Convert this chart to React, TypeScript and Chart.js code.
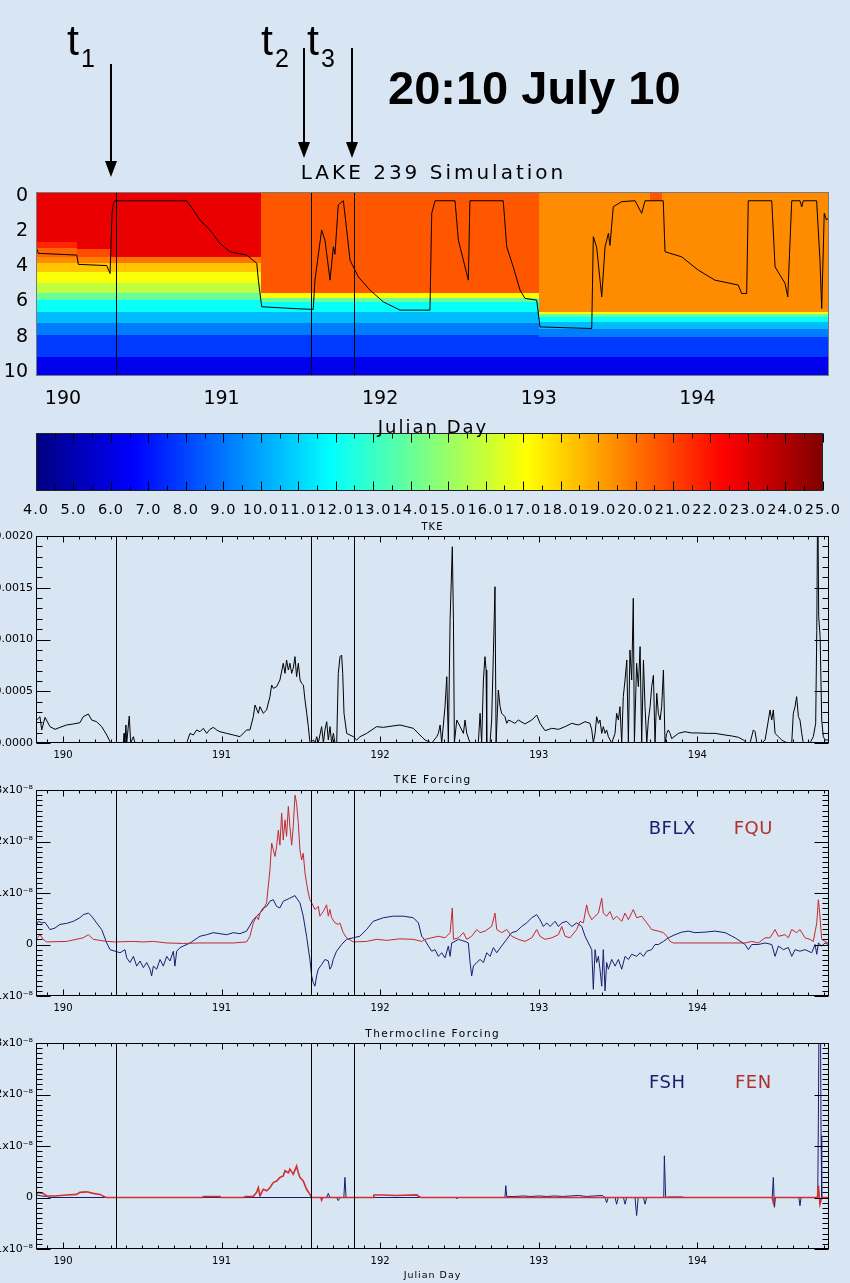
import React, { useEffect, useRef } from "react";
import { Chart, registerables } from "chart.js";

Chart.register(...registerables);

// ---------------- data ----------------
const dayRange: [number, number] = [189.83, 194.83];
const dayTicks = [190, 191, 192, 193, 194];
const markerDays = [190.335, 191.564, 191.835]; // t1, t2, t3

const depthRange: [number, number] = [-0.25, 10.25];
const depthTicks = [0, 2, 4, 6, 8, 10];

const colorRange: [number, number] = [4, 25];
const colorTicks = [4, 5, 6, 7, 8, 9, 10, 11, 12, 13, 14, 15, 16, 17, 18, 19, 20, 21, 22, 23, 24, 25];

const tkeRange: [number, number] = [0, 0.002];
const tkeTicks = [0, 0.0005, 0.001, 0.0015, 0.002];

const forcingRange: [number, number] = [-1, 3]; // units of 1e-8
const forcingTicks = [-1, 0, 1, 2, 3];

// temperature segments: [startDay, endDay]
const tempSegmentDays: [number, number][] = [
  [189.83, 190.09],
  [190.09, 190.3],
  [190.3, 191.25],
  [191.25, 193.0],
  [193.0, 193.7],
  [193.7, 193.78],
  [193.78, 194.83],
];
// each profile: [bottom depth (m), temperature (C)] bands from the surface down
const profileA: [number, number][] = [[2.59, 22.8], [2.97, 21.6], [3.45, 20.3], [3.83, 19.5], [4.3, 18.3], [4.97, 17.0], [5.54, 15.8], [5.92, 14.0], [6.59, 12.0], [7.25, 10.5], [7.92, 9.2], [9.16, 7.8], [10.25, 6.3]];
const profileB: [number, number][] = [[3.01, 22.8], [3.45, 20.8], [3.83, 19.8], [4.3, 18.3], [4.97, 17.0], [5.54, 15.8], [5.92, 14.0], [6.59, 12.0], [7.25, 10.5], [7.92, 9.2], [9.16, 7.8], [10.25, 6.3]];
const profileC: [number, number][] = [[3.45, 22.8], [3.83, 20.0], [4.3, 18.3], [4.97, 17.0], [5.54, 15.8], [5.92, 14.0], [6.59, 12.0], [7.25, 10.5], [7.92, 9.2], [9.16, 7.8], [10.25, 6.3]];
const profileD: [number, number][] = [[5.54, 20.6], [5.78, 17.2], [6.0, 14.0], [6.59, 12.0], [7.25, 10.5], [7.92, 9.2], [9.16, 7.8], [10.25, 6.3]];
const profileE: [number, number][] = [[6.59, 19.5], [6.74, 17.0], [6.87, 14.0], [7.16, 12.0], [7.54, 10.5], [8.0, 9.2], [9.16, 7.8], [10.25, 6.3]];
const profileE2: [number, number][] = [[0.25, 20.6], [6.59, 19.5], [6.74, 17.0], [6.87, 14.0], [7.16, 12.0], [7.54, 10.5], [8.0, 9.2], [9.16, 7.8], [10.25, 6.3]];
const tempProfiles = [profileA, profileB, profileC, profileD, profileE, profileE2, profileE];

// mixed layer depth [day, depth m]
const mixedLayerDepth: [number, number][] = [
  [189.83, 2.88], [189.845, 3.25], [190.087, 3.35], [190.097, 3.88], [190.276, 3.95], [190.297, 4.4],
  [190.309, 1.0], [190.318, 0.4], [190.328, 0.25], [190.78, 0.25], [190.822, 0.78], [190.864, 1.35],
  [190.927, 1.92], [190.99, 2.68], [191.053, 3.16], [191.158, 3.35], [191.222, 3.82], [191.232, 4.78],
  [191.253, 6.3], [191.452, 6.4], [191.578, 6.45], [191.589, 4.78], [191.631, 1.92], [191.652, 2.5],
  [191.684, 4.78], [191.705, 2.88], [191.715, 3.3], [191.736, 0.49], [191.768, 0.25], [191.789, 1.92],
  [191.81, 3.64], [191.862, 4.59], [191.936, 5.35], [192.02, 6.02], [192.125, 6.49], [192.314, 6.49],
  [192.325, 0.97], [192.346, 0.25], [192.472, 0.25], [192.493, 2.49], [192.556, 4.78], [192.566, 0.25],
  [192.776, 0.25], [192.798, 2.88], [192.839, 4.02], [192.882, 5.35], [192.913, 5.82], [192.987, 5.92],
  [193.008, 7.45], [193.334, 7.54], [193.344, 2.3], [193.365, 2.9], [193.397, 5.73], [193.418, 2.88],
  [193.439, 2.11], [193.449, 2.8], [193.47, 0.59], [193.523, 0.3], [193.607, 0.25], [193.649, 0.97],
  [193.67, 0.25], [193.785, 0.25], [193.796, 3.16], [193.901, 3.45], [194.006, 4.21], [194.111, 4.78],
  [194.258, 5.06], [194.279, 5.54], [194.311, 5.54], [194.321, 0.25], [194.469, 0.25], [194.49, 4.02],
  [194.553, 4.97], [194.57, 5.73], [194.595, 0.25], [194.647, 0.25], [194.658, 0.6], [194.668, 0.25],
  [194.752, 0.25], [194.773, 3.64], [194.784, 6.4], [194.8, 0.97], [194.815, 1.35], [194.83, 1.2],
];

// TKE [day, value]
const tke: [number, number][] = [
  [189.828, 0.000222], [189.834, 0.000222], [189.855, 0.000254], [189.866, 0.000126], [189.887, 0.000248],
  [189.918, 0.000158], [189.95, 0.000132], [189.981, 0.000151], [190.023, 0.000174], [190.065, 0.000184],
  [190.107, 0.000196], [190.128, 0.000254], [190.16, 0.00028], [190.181, 0.000222], [190.212, 0.000206],
  [190.244, 0.000158], [190.276, 0.000077], [190.297, 0.000013], [190.305, 0], [190.381, 0],
  [190.385, 0.000093], [190.39, 0], [190.397, 0.000174], [190.402, 0], [190.418, 0.000261], [190.427, 0],
  [190.444, 0.000061], [190.454, 0], [190.78, 0], [190.801, 0.000093], [190.822, 0.000077],
  [190.843, 0.000126], [190.864, 0.000109], [190.885, 0.000142], [190.906, 0.000093], [190.927, 0.000132],
  [190.948, 0.000151], [190.969, 0.000126], [190.99, 0.000109], [191.032, 0.000093], [191.075, 0.000077],
  [191.116, 0.000061], [191.158, 0.000126], [191.179, 0.000126], [191.2, 0.000254], [191.211, 0.000367],
  [191.232, 0.000287], [191.242, 0.000351], [191.263, 0.000287], [191.284, 0.000319], [191.305, 0.000448],
  [191.316, 0.00056], [191.327, 0.000528], [191.347, 0.000544], [191.368, 0.000609], [191.389, 0.00077],
  [191.4, 0.000673], [191.41, 0.000802], [191.421, 0.000705], [191.431, 0.00077], [191.442, 0.000673],
  [191.452, 0.000722], [191.463, 0.000834], [191.473, 0.000641], [191.484, 0.00077], [191.495, 0.000609],
  [191.505, 0.000576], [191.516, 0.00056], [191.526, 0.000415], [191.537, 0.000287], [191.547, 0.000158],
  [191.558, 0], [191.579, 0.000029], [191.589, 0], [191.6, 0.000061], [191.61, 0], [191.631, 0.000158],
  [191.642, 0], [191.652, 0.000126], [191.663, 0.000206], [191.673, 0.000029], [191.684, 0.000158],
  [191.694, 0], [191.705, 0.000093], [191.715, 0], [191.726, 0], [191.736, 0.000673], [191.747, 0.000834],
  [191.757, 0.00085], [191.764, 0.000673], [191.772, 0.000287], [191.789, 0.000093], [191.81, 0.000077],
  [191.831, 0.000061], [191.852, 0.000029], [191.873, 0.000061], [191.915, 0.000093], [191.978, 0.000158],
  [192.02, 0.000151], [192.062, 0.000161], [192.125, 0.000174], [192.167, 0.000158], [192.209, 0.000142],
  [192.251, 0.000077], [192.283, 0.000029], [192.325, 0], [192.357, 0.000061], [192.367, 0.000093],
  [192.378, 0.000174], [192.388, 0], [192.409, 0.000351], [192.42, 0.000641], [192.43, 0],
  [192.441, 0.00119], [192.455, 0.001896], [192.462, 0.00119], [192.468, 0], [192.483, 0.000222],
  [192.504, 0.000158], [192.525, 0.000093], [192.535, 0.000222], [192.546, 0.000093], [192.567, 0],
  [192.619, 0], [192.63, 0.000287], [192.64, 0], [192.651, 0.000609], [192.661, 0.000834],
  [192.668, 0.000705], [192.672, 0], [192.693, 0], [192.703, 0.000222], [192.714, 0.000866],
  [192.724, 0.00151], [192.731, 0], [192.745, 0.000512], [192.756, 0.000351], [192.766, 0.000287],
  [192.787, 0.000254], [192.798, 0.00019], [192.809, 0.000222], [192.83, 0.000206], [192.85, 0.00019],
  [192.871, 0.000222], [192.913, 0.000184], [192.956, 0.000222], [192.987, 0.00027], [193.008, 0.00019],
  [193.04, 0.000119], [193.082, 0.000142], [193.124, 0.000132], [193.166, 0.000158], [193.208, 0.00019],
  [193.25, 0.000174], [193.292, 0.000206], [193.323, 0.00019], [193.334, 0.000126], [193.344, 0],
  [193.355, 0.000093], [193.365, 0.000254], [193.376, 0.00019], [193.386, 0.000222], [193.397, 0.000093],
  [193.407, 0.000158], [193.418, 0.000093], [193.428, 0.000126], [193.439, 0.000061], [193.46, 0],
  [193.481, 0.000093], [193.491, 0.000287], [193.502, 0.000222], [193.512, 0.000351], [193.523, 0],
  [193.533, 0.000448], [193.544, 0.000609], [193.555, 0.000802], [193.565, 0], [193.575, 0.000898],
  [193.586, 0.000609], [193.596, 0.001398], [193.603, 0], [193.617, 0.00077], [193.628, 0.000544],
  [193.639, 0.000931], [193.649, 0], [193.66, 0.000802], [193.67, 0.000351], [193.681, 0],
  [193.691, 0.000222], [193.702, 0.000351], [193.712, 0.000544], [193.723, 0.000654], [193.733, 0],
  [193.744, 0.00048], [193.754, 0.000287], [193.765, 0.000222], [193.775, 0.000351], [193.786, 0.000705],
  [193.796, 0], [193.807, 0.000093], [193.817, 0.000126], [193.828, 0.000093], [193.838, 0.000042],
  [193.88, 0.000093], [193.922, 0.000109], [193.964, 0.000097], [194.006, 0.000097], [194.07, 0.000093],
  [194.112, 0.000093], [194.175, 0.000077], [194.217, 0.000068], [194.259, 0.000055], [194.29, 0.000029],
  [194.311, 0], [194.332, 0], [194.353, 0.000126], [194.364, 0.000109], [194.374, 0.00001], [194.385, 0],
  [194.406, 0], [194.427, 0.000029], [194.448, 0.000222], [194.458, 0.000319], [194.469, 0.000222],
  [194.479, 0.000319], [194.49, 0.000093], [194.511, 0.000061], [194.532, 0.000029], [194.553, 0.00001],
  [194.574, 0], [194.595, 0], [194.605, 0.000287], [194.616, 0.000351], [194.626, 0.000448],
  [194.637, 0.000254], [194.647, 0.000222], [194.658, 0.000093], [194.668, 0], [194.71, 0],
  [194.731, 0.000061], [194.746, 0.00019], [194.753, 0.00109], [194.759, 0.0025], [194.765, 0.00122],
  [194.774, 0.00103], [194.784, 0.000222], [194.794, 0.000061], [194.805, 0.000029], [194.826, 0.000029],
];

// TKE forcing, units of 1e-8
const bflx: [number, number][] = [
  [189.828, 0.35], [189.845, 0.45], [189.866, 0.42], [189.887, 0.43], [189.918, 0.29], [189.95, 0.32],
  [189.981, 0.39], [190.023, 0.41], [190.065, 0.45], [190.107, 0.52], [190.128, 0.58], [190.16, 0.61],
  [190.181, 0.55], [190.212, 0.42], [190.244, 0.29], [190.276, 0.03], [190.297, -0.1], [190.328, -0.13],
  [190.36, -0.16], [190.391, -0.1], [190.402, -0.26], [190.423, -0.35], [190.444, -0.23], [190.465, -0.42],
  [190.486, -0.32], [190.507, -0.45], [190.528, -0.35], [190.549, -0.48], [190.559, -0.61], [190.57, -0.42],
  [190.591, -0.48], [190.612, -0.29], [190.633, -0.42], [190.654, -0.23], [190.675, -0.32], [190.696, -0.13],
  [190.706, -0.42], [190.717, -0.13], [190.738, -0.06], [190.759, -0.03], [190.801, 0.03], [190.864, 0.16],
  [190.906, 0.19], [190.948, 0.23], [190.99, 0.21], [191.032, 0.19], [191.074, 0.23], [191.116, 0.21],
  [191.158, 0.26], [191.2, 0.48], [191.221, 0.55], [191.242, 0.61], [191.263, 0.71], [191.284, 0.74],
  [191.305, 0.84], [191.326, 0.87], [191.347, 0.74], [191.368, 0.71], [191.389, 0.84], [191.431, 0.9],
  [191.463, 0.95], [191.473, 0.9], [191.494, 0.81], [191.515, 0.55], [191.536, 0.16], [191.557, -0.29],
  [191.568, -0.61], [191.578, -0.74], [191.589, -0.81], [191.599, -0.61], [191.61, -0.48], [191.631, -0.39],
  [191.652, -0.29], [191.673, -0.32], [191.683, -0.48], [191.694, -0.42], [191.704, -0.29], [191.725, -0.13],
  [191.757, 0], [191.788, 0.1], [191.83, 0.13], [191.872, 0.16], [191.914, 0.29], [191.956, 0.45],
  [192.02, 0.52], [192.083, 0.55], [192.146, 0.55], [192.209, 0.52], [192.241, 0.42], [192.262, 0.16],
  [192.283, 0.08], [192.304, -0.03], [192.325, -0.13], [192.346, -0.1], [192.367, -0.23], [192.388, -0.16],
  [192.409, -0.26], [192.43, -0.03], [192.441, -0.23], [192.451, 0.03], [192.472, 0.06], [192.493, 0.1],
  [192.514, 0.08], [192.535, 0.06], [192.556, 0.03], [192.567, -0.35], [192.577, -0.61], [192.588, -0.42],
  [192.609, -0.35], [192.63, -0.29], [192.651, -0.35], [192.672, -0.16], [192.693, -0.23], [192.714, -0.06],
  [192.735, -0.16], [192.766, -0.03], [192.798, 0.1], [192.829, 0.23], [192.861, 0.26], [192.892, 0.35],
  [192.924, 0.42], [192.956, 0.52], [192.987, 0.58], [193.008, 0.48], [193.029, 0.35], [193.05, 0.42],
  [193.071, 0.35], [193.103, 0.45], [193.124, 0.35], [193.145, 0.42], [193.176, 0.45], [193.208, 0.35],
  [193.239, 0.42], [193.271, 0.35], [193.292, 0.16], [193.313, 0.03], [193.334, -0.1], [193.344, -0.87],
  [193.355, -0.1], [193.365, -0.35], [193.376, -0.23], [193.386, -0.48], [193.397, -0.81], [193.407, -0.1],
  [193.418, -0.9], [193.428, -0.35], [193.439, -0.48], [193.46, -0.29], [193.481, -0.42], [193.502, -0.29],
  [193.523, -0.48], [193.544, -0.23], [193.565, -0.29], [193.586, -0.19], [193.617, -0.23], [193.639, -0.16],
  [193.66, -0.23], [193.681, -0.13], [193.712, -0.1], [193.733, 0], [193.754, 0], [193.786, 0.06],
  [193.817, 0.13], [193.859, 0.19], [193.901, 0.24], [193.943, 0.26], [193.985, 0.23], [194.048, 0.24],
  [194.111, 0.26], [194.175, 0.23], [194.238, 0.13], [194.301, 0], [194.322, -0.1], [194.343, 0],
  [194.385, 0], [194.427, 0.03], [194.469, 0], [194.49, -0.23], [194.511, -0.03], [194.542, -0.1],
  [194.574, -0.06], [194.595, -0.23], [194.616, -0.1], [194.647, -0.13], [194.679, -0.1], [194.721, -0.16],
  [194.742, 0], [194.753, -0.19], [194.763, 0.03], [194.784, -0.03], [194.805, 0.03], [194.826, 0],
];

const fqu: [number, number][] = [
  [189.828, 0.16], [189.838, 0.13], [189.855, 0.19], [189.876, 0.1], [189.897, 0.05], [190.023, 0.06],
  [190.128, 0.13], [190.16, 0.19], [190.191, 0.1], [190.276, 0.06], [190.328, 0.05], [190.444, 0.06],
  [190.507, 0.05], [190.57, 0.06], [190.654, 0.03], [190.759, 0.02], [190.864, 0.03], [191.074, 0.03],
  [191.158, 0.05], [191.179, 0.16], [191.2, 0.42], [191.221, 0.55], [191.232, 0.48], [191.242, 0.61],
  [191.263, 0.68], [191.284, 0.81], [191.305, 1.45], [191.316, 1.97], [191.326, 1.84], [191.337, 1.71],
  [191.347, 1.9], [191.358, 2.22], [191.368, 1.93], [191.379, 2.55], [191.389, 2.03], [191.4, 2.42],
  [191.41, 2.1], [191.421, 2.68], [191.431, 2.29], [191.442, 1.93], [191.452, 2.29], [191.463, 2.9],
  [191.473, 2.74], [191.484, 2.35], [191.494, 1.84], [191.505, 1.64], [191.515, 1.77], [191.526, 1.39],
  [191.536, 1.19], [191.547, 1.0], [191.557, 0.87], [191.568, 0.81], [191.589, 0.68], [191.61, 0.74],
  [191.62, 0.55], [191.641, 0.64], [191.662, 0.77], [191.673, 0.55], [191.683, 0.68], [191.694, 0.52],
  [191.715, 0.42], [191.736, 0.39], [191.746, 0.42], [191.767, 0.23], [191.788, 0.13], [191.83, 0.05],
  [191.914, 0.06], [191.978, 0.1], [192.041, 0.08], [192.124, 0.11], [192.209, 0.1], [192.262, 0.06],
  [192.283, 0.1], [192.325, 0.13], [192.367, 0.16], [192.409, 0.13], [192.441, 0.23], [192.455, 0.71],
  [192.462, 0.1], [192.493, 0.13], [192.525, 0.23], [192.546, 0.1], [192.577, 0.16], [192.609, 0.29],
  [192.63, 0.23], [192.661, 0.26], [192.703, 0.35], [192.724, 0.61], [192.735, 0.29], [192.766, 0.23],
  [192.798, 0.29], [192.829, 0.16], [192.871, 0.1], [192.913, 0.06], [192.956, 0.13], [192.987, 0.29],
  [193.008, 0.16], [193.04, 0.1], [193.082, 0.13], [193.124, 0.19], [193.145, 0.35], [193.166, 0.16],
  [193.197, 0.13], [193.239, 0.29], [193.26, 0.45], [193.281, 0.42], [193.302, 0.77], [193.313, 0.61],
  [193.334, 0.48], [193.355, 0.55], [193.376, 0.61], [193.397, 0.9], [193.407, 0.61], [193.428, 0.55],
  [193.449, 0.64], [193.47, 0.48], [193.491, 0.55], [193.523, 0.45], [193.544, 0.61], [193.565, 0.48],
  [193.596, 0.68], [193.617, 0.52], [193.649, 0.55], [193.681, 0.42], [193.712, 0.29], [193.754, 0.26],
  [193.786, 0.23], [193.807, 0.16], [193.828, 0.06], [193.849, 0.03], [194.301, 0.03], [194.343, 0.06],
  [194.385, 0.03], [194.427, 0.13], [194.458, 0.13], [194.49, 0.29], [194.511, 0.16], [194.553, 0.19],
  [194.574, 0.13], [194.595, 0.29], [194.626, 0.23], [194.647, 0.29], [194.679, 0.13], [194.71, 0.1],
  [194.731, 0.06], [194.753, 0.42], [194.763, 0.87], [194.773, 0.55], [194.784, 0.1], [194.805, 0.06],
  [194.826, 0.03],
];

// Thermocline forcing, units of 1e-8
const fsh: [number, number][] = [
  [189.828, 0.05], [189.866, 0.03], [189.897, 0.02], [189.918, 0], [191.662, 0], [191.673, 0.08],
  [191.683, 0], [191.725, 0], [191.736, -0.06], [191.746, 0], [191.771, 0], [191.778, 0.39], [191.785, 0],
  [192.48, 0], [192.483, -0.02], [192.487, 0], [192.787, 0], [192.792, 0.23], [192.798, 0.02],
  [192.85, 0.02], [192.9, 0.03], [192.95, 0.02], [193.0, 0.03], [193.05, 0.02], [193.1, 0.03],
  [193.15, 0.02], [193.2, 0.03], [193.25, 0.04], [193.3, 0.02], [193.35, 0.03], [193.4, 0.04],
  [193.418, 0], [193.428, -0.1], [193.438, 0], [193.481, 0], [193.491, -0.13], [193.501, 0],
  [193.534, 0], [193.544, -0.13], [193.554, 0], [193.607, 0], [193.617, -0.35], [193.627, 0],
  [193.66, 0], [193.67, -0.13], [193.68, 0], [193.788, 0], [193.792, 0.81], [193.8, 0], [193.82, 0.01],
  [193.9, 0.01], [193.92, 0], [194.472, 0], [194.479, 0.39], [194.486, -0.19], [194.492, 0],
  [194.64, 0], [194.647, -0.16], [194.654, 0], [194.759, 0], [194.763, 1.48], [194.767, 3.5],
  [194.776, 3.5], [194.78, 1.2], [194.784, 0], [194.83, 0],
];

const fen: [number, number][] = [
  [189.828, 0.06], [189.845, 0.1], [189.876, 0.08], [189.897, 0.03], [189.95, 0.03], [190.023, 0.05],
  [190.086, 0.06], [190.107, 0.1], [190.149, 0.11], [190.191, 0.08], [190.233, 0.06], [190.265, 0.01],
  [190.276, 0], [190.88, 0], [190.885, 0.02], [190.99, 0.02], [190.995, 0], [191.14, 0], [191.15, 0.02],
  [191.2, 0.02], [191.221, 0.1], [191.232, 0.19], [191.242, 0.03], [191.263, 0.16], [191.284, 0.13],
  [191.305, 0.19], [191.326, 0.29], [191.347, 0.32], [191.368, 0.39], [191.389, 0.42], [191.4, 0.52],
  [191.421, 0.48], [191.431, 0.55], [191.452, 0.45], [191.473, 0.61], [191.484, 0.48], [191.494, 0.39],
  [191.515, 0.32], [191.536, 0.16], [191.557, 0.06], [191.568, 0], [191.625, 0], [191.631, -0.05],
  [191.637, 0], [191.955, 0], [191.96, 0.05], [192.02, 0.05], [192.1, 0.04], [192.23, 0.05],
  [192.25, 0.01], [192.26, 0], [194.472, 0], [194.479, -0.1], [194.486, 0], [194.757, 0],
  [194.763, 0.23], [194.773, -0.13], [194.784, 0], [194.83, 0],
];

// ---------------- helpers ----------------
const FONT = "'DejaVu Sans', 'Liberation Sans', sans-serif";
const ARIAL = "'Liberation Sans', Arial, sans-serif";
const NAVY = "#1c1c6e";
const RED = "#c4282d";

function jet(t: number) {
  const v = (t - colorRange[0]) / (colorRange[1] - colorRange[0]);
  const f = (z: number) => Math.round(255 * Math.max(0, Math.min(1, 1.5 - Math.abs(z))));
  return `rgb(${f(4 * v - 3)},${f(4 * v - 2)},${f(4 * v - 1)})`;
}

const toXY = (arr: [number, number][]) => arr.map(([x, y]) => ({ x, y }));
const fixedTicks = (values: number[]) => (scale: any) => {
  scale.ticks = values.map((value) => ({ value }));
};

function dayAxis(height: number, fontSize: number, pad: number, weight = "normal") {
  return {
    type: "linear",
    min: dayRange[0],
    max: dayRange[1],
    afterBuildTicks: fixedTicks(dayTicks),
    afterFit: (s: any) => {
      s.height = height;
    },
    grid: { display: false, drawTicks: false },
    border: { display: false },
    ticks: {
      color: "#000",
      font: { family: FONT, size: fontSize, weight },
      padding: pad,
      maxRotation: 0,
      minRotation: 0,
      autoSkip: false,
      callback: (v: number) => String(v),
    },
  };
}

function valueAxis(range: [number, number], ticks: number[], fmt: (v: number) => string, fontSize: number, pad: number, reverse = false) {
  return {
    type: "linear",
    reverse,
    min: range[0],
    max: range[1],
    afterBuildTicks: fixedTicks(ticks),
    afterFit: (s: any) => {
      s.width = 36;
    },
    grid: { display: false, drawTicks: false },
    border: { display: false },
    ticks: { color: "#000", font: { family: FONT, size: fontSize }, padding: pad, autoSkip: false, callback: fmt },
  };
}

function decor(o: any) {
  return {
    id: "decor",
    afterDatasetsDraw(chart: any) {
      const { ctx, chartArea: a } = chart;
      const xs = chart.scales.x;
      const ys = chart.scales.y;
      const L = Math.round(a.left) + 0.5;
      const R = Math.round(a.right) - 0.5;
      const T = Math.round(a.top) + 0.5;
      const B = Math.round(a.bottom) - 0.5;
      ctx.save();
      ctx.lineWidth = 1;
      ctx.strokeStyle = "#000";
      ctx.beginPath();
      const seg = (x1: number, y1: number, x2: number, y2: number) => {
        ctx.moveTo(x1, y1);
        ctx.lineTo(x2, y2);
      };
      if (o.markers) {
        for (const d of markerDays) {
          const px = Math.round(xs.getPixelForValue(d)) + 0.5;
          seg(px, a.top, px, a.bottom);
        }
      }
      if (o.xMinor) {
        const n0 = Math.ceil(xs.min / o.xMinor - 1e-9);
        const n1 = Math.floor(xs.max / o.xMinor + 1e-9);
        for (let k = n0; k <= n1; k++) {
          const v = k * o.xMinor;
          const major = Math.abs(v / o.xMajor - Math.round(v / o.xMajor)) < 1e-6;
          const len = major ? o.xMajorLen : o.xMinorLen;
          const px = Math.round(xs.getPixelForValue(v)) + 0.5;
          seg(px, B, px, B - len);
          seg(px, T, px, T + len);
        }
      }
      if (o.yMinor) {
        const n0 = Math.ceil(ys.min / o.yMinor - 1e-9);
        const n1 = Math.floor(ys.max / o.yMinor + 1e-9);
        for (let k = n0; k <= n1; k++) {
          const v = k * o.yMinor;
          const major = Math.abs(v / o.yMajor - Math.round(v / o.yMajor)) < 1e-6;
          const len = major ? o.yMajorLen : o.yMinorLen;
          const py = Math.round(ys.getPixelForValue(v)) + 0.5;
          seg(L, py, L + len, py);
          seg(R, py, R - len, py);
        }
      }
      ctx.stroke();
      ctx.strokeStyle = o.frameColor || "#000";
      ctx.strokeRect(L, T, R - L, B - T);
      ctx.restore();
    },
  };
}

const heatCells = {
  id: "heatCells",
  beforeDatasetsDraw(chart: any) {
    const { ctx, chartArea: a } = chart;
    const xs = chart.scales.x;
    const ys = chart.scales.y;
    ctx.save();
    ctx.beginPath();
    ctx.rect(a.left, a.top, a.right - a.left, a.bottom - a.top);
    ctx.clip();
    tempSegmentDays.forEach(([d0, d1], i) => {
      const x0 = Math.round(xs.getPixelForValue(d0));
      const x1 = Math.round(xs.getPixelForValue(d1));
      let top = depthRange[0];
      for (const [bottom, temp] of tempProfiles[i]) {
        const y0 = Math.round(ys.getPixelForValue(top));
        const y1 = Math.round(ys.getPixelForValue(bottom));
        ctx.fillStyle = jet(temp);
        ctx.fillRect(x0, y0, x1 - x0, y1 - y0);
        top = bottom;
      }
    });
    ctx.restore();
  },
};

const colorCells = {
  id: "colorCells",
  beforeDraw(chart: any) {
    chart.ctx.letterSpacing = "1px";
  },
  beforeDatasetsDraw(chart: any) {
    const { ctx, chartArea: a } = chart;
    const xs = chart.scales.x;
    const step = 0.05;
    const n = Math.round((colorRange[1] - colorRange[0]) / step);
    ctx.save();
    for (let k = 0; k < n; k++) {
      const v = colorRange[0] + k * step;
      const x0 = Math.floor(xs.getPixelForValue(v));
      const x1 = Math.ceil(xs.getPixelForValue(v + step));
      ctx.fillStyle = jet(v + step / 2);
      ctx.fillRect(x0, a.top, x1 - x0, a.bottom - a.top);
    }
    ctx.restore();
  },
  afterDraw(chart: any) {
    chart.ctx.letterSpacing = "0px";
  },
};

const baseOptions = (padTop: number, scales: any) => ({
  responsive: false,
  maintainAspectRatio: false,
  animation: false,
  events: [],
  layout: { padding: { top: padTop, right: 21, left: 0, bottom: 0 } },
  plugins: { legend: { display: false }, tooltip: { enabled: false }, title: { display: false } },
  scales,
});

const lineDs = (data: [number, number][], color: string, order: number, width = 1) => ({
  data: toXY(data),
  borderColor: color,
  borderWidth: width,
  pointRadius: 0,
  tension: 0,
  fill: false,
  order,
});

// ---------------- chart configs ----------------
const heatmapConfig = () => ({
  type: "line",
  data: { datasets: [lineDs(mixedLayerDepth, "#000", 0)] },
  options: baseOptions(192, {
    x: dayAxis(64, 19, 12),
    y: valueAxis(depthRange, depthTicks, (v) => String(v), 19, 8, true),
  }),
  plugins: [heatCells, decor({ markers: true, frameColor: "#7a7a7a" })],
});

const colorbarConfig = () => ({
  type: "line",
  data: { datasets: [] },
  options: {
    ...baseOptions(13, {
      x: {
        type: "linear",
        min: colorRange[0],
        max: colorRange[1],
        afterBuildTicks: fixedTicks(colorTicks),
        afterFit: (s: any) => {
          s.height = 29;
        },
        grid: { display: false, drawTicks: false },
        border: { display: false },
        ticks: {
          color: "#000",
          font: { family: FONT, size: 14.5 },
          padding: 11,
          maxRotation: 0,
          minRotation: 0,
          autoSkip: false,
          callback: (v: number) => v.toFixed(1),
        },
      },
      y: { type: "linear", display: false, min: 0, max: 1 },
    }),
    layout: { padding: { top: 13, right: 21, left: 36, bottom: 0 } },
  },
  plugins: [colorCells, decor({ xMinor: 0.5, xMajor: 1, xMajorLen: 9, xMinorLen: 5, frameColor: "#222" })],
});

const lowerDecor = (yMinor: number, yMajor: number) =>
  decor({
    markers: true,
    xMinor: 0.1,
    xMajor: 1,
    xMajorLen: 6,
    xMinorLen: 3,
    yMinor,
    yMajor,
    yMajorLen: 14,
    yMinorLen: 6,
  });

const forcingLabel = (v: number) => (v === 0 ? "0" : `${v}x10\u207B\u2078`);

const tkeConfig = () => ({
  type: "line",
  data: { datasets: [lineDs(tke, "#000", 0)] },
  options: baseOptions(16, {
    x: dayAxis(27, 10, 6),
    y: valueAxis(tkeRange, tkeTicks, (v) => v.toFixed(4), 11, 3),
  }),
  plugins: [lowerDecor(0.0001, 0.0005)],
});

const forcingConfig = () => ({
  type: "line",
  data: { datasets: [lineDs(bflx, NAVY, 2), lineDs(fqu, RED, 1)] },
  options: baseOptions(20, {
    x: dayAxis(24, 10, 6),
    y: valueAxis(forcingRange, forcingTicks, forcingLabel, 11, 3),
  }),
  plugins: [lowerDecor(0.1, 1)],
});

const thermoConfig = () => ({
  type: "line",
  data: { datasets: [lineDs(fsh, NAVY, 2), lineDs(fen, "#d03030", 1, 1.6)] },
  options: baseOptions(23, {
    x: dayAxis(34, 10, 6),
    y: valueAxis(forcingRange, forcingTicks, forcingLabel, 11, 3),
  }),
  plugins: [lowerDecor(0.1, 1)],
});

// ---------------- components ----------------
function ChartCanvas({ top, height, make }: { top: number; height: number; make: () => any }) {
  const ref = useRef<HTMLCanvasElement>(null);
  useEffect(() => {
    const chart = new Chart(ref.current as HTMLCanvasElement, make());
    return () => chart.destroy();
  }, []);
  return (
    <canvas
      ref={ref}
      width={850}
      height={height}
      style={{ position: "absolute", left: 0, top, width: 850, height, display: "block" }}
    />
  );
}

function Txt({
  x,
  y,
  text,
  size,
  color = "#000",
  family = FONT,
  weight = "normal",
  spacing = 0,
  align = "center",
}: any) {
  const style: any = {
    position: "absolute",
    top: y - size / 2,
    fontSize: size,
    lineHeight: 1,
    fontFamily: family,
    fontWeight: weight,
    color,
    letterSpacing: spacing,
    whiteSpace: "nowrap",
    left: x,
  };
  if (align === "center") {
    style.transform = "translateX(-50%)";
    style.paddingLeft = spacing;
  }
  return <div style={style}>{text}</div>;
}

function TLabel({ x, sub }: { x: number; sub: string }) {
  return (
    <>
      <div style={{ position: "absolute", left: x, top: 19, fontFamily: ARIAL, fontSize: 43, lineHeight: 1 }}>t</div>
      <div style={{ position: "absolute", left: x + 14, top: 46, fontFamily: ARIAL, fontSize: 25, lineHeight: 1 }}>{sub}</div>
    </>
  );
}

const arrows = [
  { x: 111, y1: 64, y2: 177 },
  { x: 304, y1: 48, y2: 158 },
  { x: 352, y1: 48, y2: 158 },
];

export default function App() {
  return (
    <div
      style={{
        position: "absolute",
        left: 0,
        top: 0,
        width: 850,
        height: 1283,
        overflow: "hidden",
        background: "#d8e5f3",
      }}
    >
      <ChartCanvas top={0} height={440} make={heatmapConfig} />
      <ChartCanvas top={420} height={100} make={colorbarConfig} />
      <ChartCanvas top={520} height={250} make={tkeConfig} />
      <ChartCanvas top={770} height={250} make={forcingConfig} />
      <ChartCanvas top={1020} height={263} make={thermoConfig} />

      <TLabel x={67} sub="1" />
      <TLabel x={261} sub="2" />
      <TLabel x={307} sub="3" />
      <svg width={850} height={200} style={{ position: "absolute", left: 0, top: 0 }}>
        {arrows.map((a, i) => (
          <g key={i}>
            <line x1={a.x} y1={a.y1} x2={a.x} y2={a.y2 - 12} stroke="#000" strokeWidth={2} />
            <polygon points={`${a.x - 6},${a.y2 - 16} ${a.x + 6},${a.y2 - 16} ${a.x},${a.y2}`} fill="#000" />
          </g>
        ))}
      </svg>
      <Txt x={388} y={87} text="20:10 July 10" size={47} family={ARIAL} weight="bold" align="left" />
      <Txt x={432} y={172} text="LAKE 239 Simulation" size={20} spacing={3} />
      <Txt x={432} y={427} text="Julian Day" size={18} spacing={2} />
      <Txt x={432} y={527} text="TKE" size={10} spacing={1} />
      <Txt x={432} y={779} text="TKE Forcing" size={10.5} spacing={1.5} />
      <Txt x={672} y={828} text="BFLX" size={18} color={NAVY} spacing={0.5} />
      <Txt x={753} y={828} text="FQU" size={18} color="#b03030" spacing={0.5} />
      <Txt x={432} y={1033} text="Thermocline Forcing" size={10.5} spacing={1.5} />
      <Txt x={667} y={1082} text="FSH" size={18} color={NAVY} spacing={0.5} />
      <Txt x={753} y={1082} text="FEN" size={18} color="#b03030" spacing={0.5} />
      <Txt x={432} y={1275} text="Julian Day" size={9.5} spacing={1} />
    </div>
  );
}
